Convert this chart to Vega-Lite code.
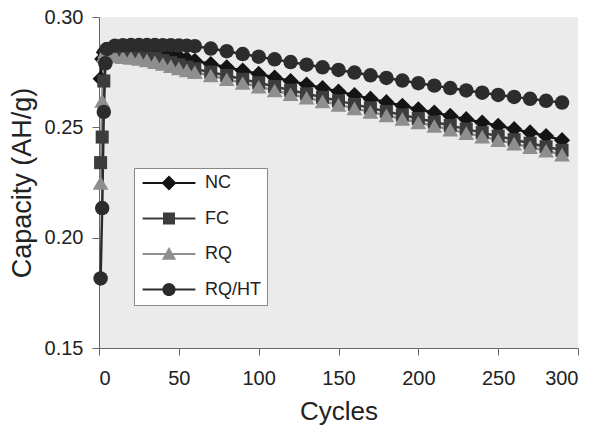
{
  "$schema": "https://vega.github.io/schema/vega-lite/v6.json",
  "width": 479,
  "height": 331,
  "autosize": {"type": "none"},
  "padding": {"left": 99, "top": 17, "right": 15, "bottom": 81},
  "background": "white",
  "config": {
    "font": "Liberation Sans",
    "view": {"stroke": null, "fill": "#ebebeb"},
    "axis": {
      "domainColor": "#666",
      "tickColor": "#666",
      "domainWidth": 1,
      "tickWidth": 1,
      "tickSize": 7,
      "labelFontSize": 20,
      "labelColor": "#222",
      "titleFontSize": 26,
      "titleFontWeight": "normal",
      "titleColor": "#222",
      "grid": false
    }
  },
  "data": {
    "values": [
      {"s": "NC", "c": 1, "v": 0.272}, {"s": "NC", "c": 2, "v": 0.281}, {"s": "NC", "c": 3, "v": 0.284}, {"s": "NC", "c": 4, "v": 0.285}, {"s": "NC", "c": 5, "v": 0.285},
      {"s": "NC", "c": 10, "v": 0.2852}, {"s": "NC", "c": 15, "v": 0.2852}, {"s": "NC", "c": 20, "v": 0.285}, {"s": "NC", "c": 25, "v": 0.2848}, {"s": "NC", "c": 30, "v": 0.2845},
      {"s": "NC", "c": 35, "v": 0.284}, {"s": "NC", "c": 40, "v": 0.2835}, {"s": "NC", "c": 45, "v": 0.2828}, {"s": "NC", "c": 50, "v": 0.282}, {"s": "NC", "c": 55, "v": 0.281},
      {"s": "NC", "c": 60, "v": 0.2802}, {"s": "NC", "c": 70, "v": 0.2787}, {"s": "NC", "c": 80, "v": 0.2772}, {"s": "NC", "c": 90, "v": 0.2757}, {"s": "NC", "c": 100, "v": 0.2742},
      {"s": "NC", "c": 110, "v": 0.2726}, {"s": "NC", "c": 120, "v": 0.271}, {"s": "NC", "c": 130, "v": 0.2694}, {"s": "NC", "c": 140, "v": 0.2678}, {"s": "NC", "c": 150, "v": 0.2662},
      {"s": "NC", "c": 160, "v": 0.2646}, {"s": "NC", "c": 170, "v": 0.263}, {"s": "NC", "c": 180, "v": 0.2614}, {"s": "NC", "c": 190, "v": 0.2598}, {"s": "NC", "c": 200, "v": 0.2582},
      {"s": "NC", "c": 210, "v": 0.2567}, {"s": "NC", "c": 220, "v": 0.2552}, {"s": "NC", "c": 230, "v": 0.2537}, {"s": "NC", "c": 240, "v": 0.2522}, {"s": "NC", "c": 250, "v": 0.2507},
      {"s": "NC", "c": 260, "v": 0.2492}, {"s": "NC", "c": 270, "v": 0.2477}, {"s": "NC", "c": 280, "v": 0.2461}, {"s": "NC", "c": 290, "v": 0.2442},

      {"s": "FC", "c": 1, "v": 0.234}, {"s": "FC", "c": 2, "v": 0.2456}, {"s": "FC", "c": 3, "v": 0.271}, {"s": "FC", "c": 4, "v": 0.282}, {"s": "FC", "c": 5, "v": 0.2845},
      {"s": "FC", "c": 10, "v": 0.2842}, {"s": "FC", "c": 15, "v": 0.284}, {"s": "FC", "c": 20, "v": 0.2835}, {"s": "FC", "c": 25, "v": 0.283}, {"s": "FC", "c": 30, "v": 0.2822},
      {"s": "FC", "c": 35, "v": 0.2813}, {"s": "FC", "c": 40, "v": 0.2803}, {"s": "FC", "c": 45, "v": 0.2793}, {"s": "FC", "c": 50, "v": 0.2783}, {"s": "FC", "c": 55, "v": 0.2773},
      {"s": "FC", "c": 60, "v": 0.2765}, {"s": "FC", "c": 70, "v": 0.275}, {"s": "FC", "c": 80, "v": 0.2735}, {"s": "FC", "c": 90, "v": 0.2718}, {"s": "FC", "c": 100, "v": 0.2702},
      {"s": "FC", "c": 110, "v": 0.2685}, {"s": "FC", "c": 120, "v": 0.2668}, {"s": "FC", "c": 130, "v": 0.2652}, {"s": "FC", "c": 140, "v": 0.2636}, {"s": "FC", "c": 150, "v": 0.262},
      {"s": "FC", "c": 160, "v": 0.2604}, {"s": "FC", "c": 170, "v": 0.2588}, {"s": "FC", "c": 180, "v": 0.2572}, {"s": "FC", "c": 190, "v": 0.2556}, {"s": "FC", "c": 200, "v": 0.254},
      {"s": "FC", "c": 210, "v": 0.2524}, {"s": "FC", "c": 220, "v": 0.2508}, {"s": "FC", "c": 230, "v": 0.2492}, {"s": "FC", "c": 240, "v": 0.2476}, {"s": "FC", "c": 250, "v": 0.246},
      {"s": "FC", "c": 260, "v": 0.2444}, {"s": "FC", "c": 270, "v": 0.2428}, {"s": "FC", "c": 280, "v": 0.2412}, {"s": "FC", "c": 290, "v": 0.2396},

      {"s": "RQ", "c": 1, "v": 0.2248}, {"s": "RQ", "c": 2, "v": 0.262}, {"s": "RQ", "c": 3, "v": 0.2825}, {"s": "RQ", "c": 4, "v": 0.2845}, {"s": "RQ", "c": 5, "v": 0.2835},
      {"s": "RQ", "c": 10, "v": 0.2822}, {"s": "RQ", "c": 15, "v": 0.2818}, {"s": "RQ", "c": 20, "v": 0.2815}, {"s": "RQ", "c": 25, "v": 0.281}, {"s": "RQ", "c": 30, "v": 0.2803},
      {"s": "RQ", "c": 35, "v": 0.2795}, {"s": "RQ", "c": 40, "v": 0.2787}, {"s": "RQ", "c": 45, "v": 0.2777}, {"s": "RQ", "c": 50, "v": 0.2767}, {"s": "RQ", "c": 55, "v": 0.2758},
      {"s": "RQ", "c": 60, "v": 0.275}, {"s": "RQ", "c": 70, "v": 0.2735}, {"s": "RQ", "c": 80, "v": 0.2718}, {"s": "RQ", "c": 90, "v": 0.2701}, {"s": "RQ", "c": 100, "v": 0.2684},
      {"s": "RQ", "c": 110, "v": 0.2667}, {"s": "RQ", "c": 120, "v": 0.265}, {"s": "RQ", "c": 130, "v": 0.2634}, {"s": "RQ", "c": 140, "v": 0.2618}, {"s": "RQ", "c": 150, "v": 0.2602},
      {"s": "RQ", "c": 160, "v": 0.2586}, {"s": "RQ", "c": 170, "v": 0.257}, {"s": "RQ", "c": 180, "v": 0.2554}, {"s": "RQ", "c": 190, "v": 0.2538}, {"s": "RQ", "c": 200, "v": 0.2522},
      {"s": "RQ", "c": 210, "v": 0.2506}, {"s": "RQ", "c": 220, "v": 0.249}, {"s": "RQ", "c": 230, "v": 0.2474}, {"s": "RQ", "c": 240, "v": 0.2458}, {"s": "RQ", "c": 250, "v": 0.2442},
      {"s": "RQ", "c": 260, "v": 0.2426}, {"s": "RQ", "c": 270, "v": 0.241}, {"s": "RQ", "c": 280, "v": 0.2394}, {"s": "RQ", "c": 290, "v": 0.2376},

      {"s": "RQ/HT", "c": 1, "v": 0.1815}, {"s": "RQ/HT", "c": 2, "v": 0.2134}, {"s": "RQ/HT", "c": 3, "v": 0.257}, {"s": "RQ/HT", "c": 4, "v": 0.279}, {"s": "RQ/HT", "c": 5, "v": 0.2855},
      {"s": "RQ/HT", "c": 10, "v": 0.287}, {"s": "RQ/HT", "c": 15, "v": 0.2872}, {"s": "RQ/HT", "c": 20, "v": 0.2873}, {"s": "RQ/HT", "c": 25, "v": 0.2873}, {"s": "RQ/HT", "c": 30, "v": 0.2873},
      {"s": "RQ/HT", "c": 35, "v": 0.2873}, {"s": "RQ/HT", "c": 40, "v": 0.2872}, {"s": "RQ/HT", "c": 45, "v": 0.2872}, {"s": "RQ/HT", "c": 50, "v": 0.2871}, {"s": "RQ/HT", "c": 55, "v": 0.287},
      {"s": "RQ/HT", "c": 60, "v": 0.2868}, {"s": "RQ/HT", "c": 70, "v": 0.2857}, {"s": "RQ/HT", "c": 80, "v": 0.2845}, {"s": "RQ/HT", "c": 90, "v": 0.2832}, {"s": "RQ/HT", "c": 100, "v": 0.282},
      {"s": "RQ/HT", "c": 110, "v": 0.2808}, {"s": "RQ/HT", "c": 120, "v": 0.2796}, {"s": "RQ/HT", "c": 130, "v": 0.2784}, {"s": "RQ/HT", "c": 140, "v": 0.2772}, {"s": "RQ/HT", "c": 150, "v": 0.276},
      {"s": "RQ/HT", "c": 160, "v": 0.2748}, {"s": "RQ/HT", "c": 170, "v": 0.2736}, {"s": "RQ/HT", "c": 180, "v": 0.2724}, {"s": "RQ/HT", "c": 190, "v": 0.2712}, {"s": "RQ/HT", "c": 200, "v": 0.27},
      {"s": "RQ/HT", "c": 210, "v": 0.2689}, {"s": "RQ/HT", "c": 220, "v": 0.2678}, {"s": "RQ/HT", "c": 230, "v": 0.2667}, {"s": "RQ/HT", "c": 240, "v": 0.2657}, {"s": "RQ/HT", "c": 250, "v": 0.2647},
      {"s": "RQ/HT", "c": 260, "v": 0.2638}, {"s": "RQ/HT", "c": 270, "v": 0.2629}, {"s": "RQ/HT", "c": 280, "v": 0.262}, {"s": "RQ/HT", "c": 290, "v": 0.2612}
    ]
  },
  "encoding": {
    "x": {
      "field": "c", "type": "quantitative",
      "scale": {"domain": [0, 300], "nice": false},
      "axis": {"title": "Cycles", "values": [0, 50, 100, 150, 200, 250, 300], "labelPadding": 13, "titlePadding": 10}
    },
    "y": {
      "field": "v", "type": "quantitative",
      "scale": {"domain": [0.15, 0.30], "zero": false, "nice": false},
      "axis": {"title": "Capacity (AH/g)", "values": [0.15, 0.2, 0.25, 0.3], "format": ".2f", "labelPadding": 9, "titlePadding": 8, "titleFontSize": 27}
    },
    "color": {
      "field": "s", "type": "nominal",
      "scale": {"domain": ["NC", "FC", "RQ", "RQ/HT"], "range": ["#141414", "#3c3c3c", "#8e8e8e", "#2c2c2c"]},
      "legend": {
        "title": null,
        "orient": "none",
        "legendX": 35,
        "legendY": 151,
        "direction": "vertical",
        "fillColor": "white",
        "strokeColor": "#888",
        "padding": 6,
        "labelFontSize": 18,
        "labelColor": "#222",
        "symbolSize": 144,
        "symbolStrokeWidth": 0,
        "symbolOffset": 20,
        "labelOffset": 27,
        "rowPadding": 17.5,
        "encode": {
          "symbols": {
            "update": {
              "shape": {"signal": "datum.value === 'NC' ? 'M-4.4,-0.17H4.4V0.17H-4.4ZM0,-1.25L1.25,0L0,1.25L-1.25,0Z' : datum.value === 'FC' ? 'M-4.4,-0.17H4.4V0.17H-4.4ZM-1,-1H1V1H-1Z' : datum.value === 'RQ' ? 'M-4.4,-0.17H4.4V0.17H-4.4ZM0,-1.15L1.2,0.95H-1.2Z' : 'M-4.4,-0.17H4.4V0.17H-4.4ZM-1.1,0A1.1,1.1,0,1,1,1.1,0A1.1,1.1,0,1,1,-1.1,0Z'"},
              "fill": {"signal": "scale('color', datum.value)"},
              "strokeWidth": {"value": 0},
              "opacity": {"value": 1}
            }
          }
        }
      }
    }
  },
  "layer": [
    {"mark": {"type": "line", "strokeWidth": 2.5}},
    {"transform": [{"filter": "datum.s === 'NC'"}], "mark": {"type": "point", "filled": true, "opacity": 1, "shape": "diamond", "size": 260}},
    {"transform": [{"filter": "datum.s === 'FC'"}], "mark": {"type": "point", "filled": true, "opacity": 1, "shape": "square", "size": 170}},
    {"transform": [{"filter": "datum.s === 'RQ'"}], "mark": {"type": "point", "filled": true, "opacity": 1, "shape": "triangle-up", "size": 250}},
    {"transform": [{"filter": "datum.s === 'RQ/HT'"}], "mark": {"type": "point", "filled": true, "opacity": 1, "shape": "circle", "size": 210}}
  ]
}
